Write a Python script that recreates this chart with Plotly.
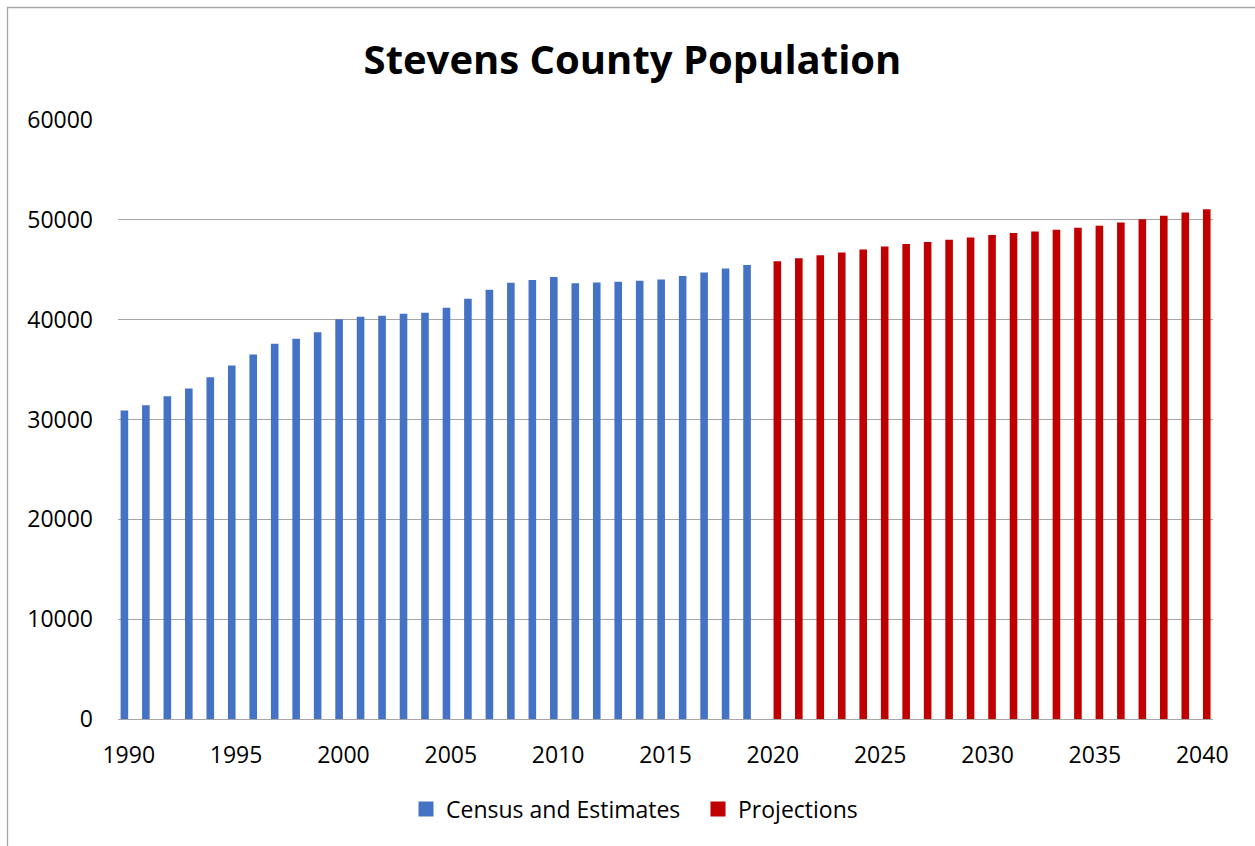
import plotly.graph_objects as go

# Census counts and annual estimates, 1990-2019
census_years = [str(y) for y in range(1990, 2020)]
census_values = [
    30900, 31430, 32330, 33100, 34240, 35400, 36500, 37600, 38100, 38740,
    40040, 40300, 40400, 40600, 40700, 41200, 42100, 43000, 43700, 43970,
    44270, 43640, 43730, 43800, 43900, 44030, 44370, 44730, 45130, 45470,
]

# Population projections, 2020-2040
projection_years = [str(y) for y in range(2020, 2041)]
projection_values = [
    45840, 46140, 46440, 46740, 47040, 47340, 47570, 47770, 48000, 48240,
    48470, 48670, 48840, 49000, 49200, 49400, 49730, 50070, 50400, 50740,
    51070,
]

x_tick_labels = [str(y) for y in range(1990, 2041, 5)]
y_tick_values = [0, 10000, 20000, 30000, 40000, 50000, 60000]

BLUE = "#4472C4"
RED = "#C00000"
GRID = "#A6A6A6"
FONT = "Open Sans"
W, H = 1255, 846
L, R, T, B = 118, 42, 120, 127

# clustered layout: each series keeps its own slot in the year's cluster
BAR_W = 0.354
BLUE_OFFSET = -0.379
RED_OFFSET = 0.032

fig = go.Figure()
fig.add_trace(go.Bar(x=census_years, y=census_values, name="Census and Estimates",
                     width=BAR_W, offset=BLUE_OFFSET, showlegend=False,
                     marker=dict(color=BLUE, line=dict(width=0))))
fig.add_trace(go.Bar(x=projection_years, y=projection_values, name="Projections",
                     width=BAR_W, offset=RED_OFFSET, showlegend=False,
                     marker=dict(color=RED, line=dict(width=0))))

# legend keys (square swatches)
for name, color in [("Census and Estimates", BLUE), ("Projections", RED)]:
    fig.add_trace(go.Scatter(x=[None], y=[None], mode="markers", name=name,
                             marker=dict(symbol="square", size=15, color=color,
                                         line=dict(width=0))))

all_years = census_years + projection_years
pw = W - L - R
ph = H - T - B

fig.update_layout(
    width=W, height=H,
    margin=dict(l=L, r=R, t=T, b=B, autoexpand=False),
    paper_bgcolor="white", plot_bgcolor="white",
    barmode="overlay",
    font=dict(family=FONT, color="#000000", size=23),
    title=dict(text="<b>Stevens County Population</b>",
               font=dict(family=FONT, size=40, color="#000000"),
               x=632.5 / W, xref="container", xanchor="center",
               y=1 - 60 / H, yref="container", yanchor="middle"),
    xaxis=dict(type="category", categoryorder="array", categoryarray=all_years,
               range=[-0.5, len(all_years) - 0.5],
               tickmode="array", tickvals=x_tick_labels, ticktext=x_tick_labels,
               showgrid=False, showline=True, linecolor=GRID, linewidth=1.3,
               ticks="", tickfont=dict(size=23, family=FONT, color="#000000"),
               ticklabelstandoff=15, tickangle=0),
    yaxis=dict(range=[0, 60000], tickmode="array", tickvals=y_tick_values,
               ticktext=[str(v) for v in y_tick_values],
               showgrid=True, gridcolor=GRID, gridwidth=1.3, zeroline=False,
               showline=False, ticks="", ticklabelstandoff=24,
               tickfont=dict(size=23, family=FONT, color="#000000")),
    legend=dict(orientation="h", x=(406 - L) / pw, xanchor="left",
                y=-(809 - (T + ph)) / ph, yanchor="middle",
                font=dict(size=23, family=FONT, color="#000000"),
                entrywidth=247, entrywidthmode="pixels",
                bgcolor="rgba(0,0,0,0)"),
    showlegend=True,
    shapes=[dict(type="rect", xref="paper", yref="paper",
                 x0=(7.5 - L) / pw, x1=(W + 20 - L) / pw,
                 y0=-(H + 20 - (T + ph)) / ph, y1=1 + (T - 7.5) / ph,
                 line=dict(color="#A6A6A6", width=1.3), fillcolor="rgba(0,0,0,0)",
                 layer="below")],
)

fig.write_html("out.html")
